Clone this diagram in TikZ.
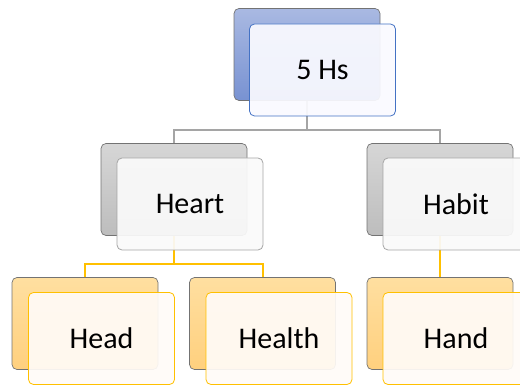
\documentclass[tikz,border=0pt]{standalone}
\usepackage{fontspec}
\setmainfont{Carlito}
\usetikzlibrary{positioning}
\definecolor{topblue}{HTML}{A9B9E2}
\definecolor{botblue}{HTML}{7892D2}
\definecolor{edgeblue}{HTML}{4472C4}
\definecolor{topgray}{HTML}{D6D6D6}
\definecolor{botgray}{HTML}{BDBDBD}
\definecolor{edgegray}{HTML}{A5A5A5}
\definecolor{toporange}{HTML}{FFDFA0}
\definecolor{botorange}{HTML}{FFD07E}
\definecolor{edgegold}{HTML}{FFC000}
\tikzset{
  card/.style={rectangle,rounded corners=5pt,minimum width=146pt,minimum height=92pt,draw=black!55,line width=0.7pt},
  facecard/.style={rectangle,rounded corners=5pt,minimum width=146pt,minimum height=92pt,line width=0.8pt,fill opacity=0.93,text opacity=1,font=\fontsize{30}{35}\selectfont},
  link/.style={line width=2pt}
}
\begin{document}
\begin{tikzpicture}[x=1pt,y=1pt]
\useasboundingbox (0,0) rectangle (520,-385);
\clip (0,0) rectangle (520,-385);
% back cards
\node[card,top color=topblue,bottom color=botblue] (hsback) at (307,-54.5) {};
\node[card,top color=topgray,bottom color=botgray] (heartback) at (174,-189.5) {};
\node[card,top color=topgray,bottom color=botgray] (habitback) at (440,-189.5) {};
\node[card,top color=toporange,bottom color=botorange] (headback) at (85,-323.5) {};
\node[card,top color=toporange,bottom color=botorange] (healthback) at (262.5,-323.5) {};
\node[card,top color=toporange,bottom color=botorange] (handback) at (440,-323.5) {};
% connectors
\draw[link,edgegray] (hsback.south) -- ++(0,-29) -| (heartback.north);
\draw[link,edgegray] (hsback.south) -- ++(0,-29) -| (habitback.north);
\draw[link,edgegold] (heartback.south) -- ++(0,-28) -| (headback.north);
\draw[link,edgegold] (heartback.south) -- ++(0,-28) -| (healthback.north);
\draw[link,edgegold] (habitback.south) -- (handback.north);
% front cards
\node[facecard,draw=edgeblue,fill=blue!2!white] (hs) at (322.5,-70) {5 Hs};
\node[facecard,draw=edgegray,fill=black!2] (heart) at (190,-204) {Heart};
\node[facecard,draw=edgegray,fill=black!2] (habit) at (456,-204) {Habit};
\node[facecard,draw=edgegold,fill=orange!3!white] (head) at (101.5,-338.5) {Head};
\node[facecard,draw=edgegold,fill=orange!3!white] (health) at (279,-338.5) {Health};
\node[facecard,draw=edgegold,fill=orange!3!white] (hand) at (456,-338.5) {Hand};
\end{tikzpicture}
\end{document}
